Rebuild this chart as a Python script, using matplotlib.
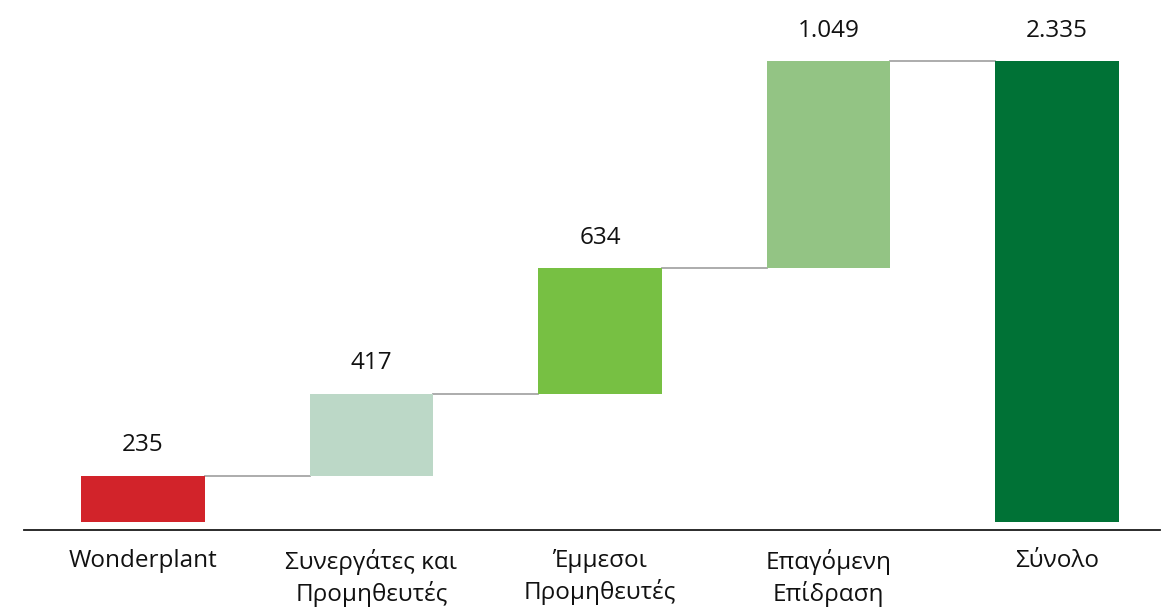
import matplotlib
matplotlib.use("Agg")
import matplotlib.pyplot as plt

plt.rcParams['font.family'] = ['Open Sans', 'DejaVu Sans']

# data
categories = ["Wonderplant", "Συνεργάτες και\nΠρομηθευτές", "Έμμεσοι\nΠρομηθευτές",
              "Επαγόμενη\nΕπίδραση", "Σύνολο"]
steps = [235, 417, 634, 1049]
total = 2335
colors = ["#D2232A", "#BCD8C7", "#77C043", "#93C484", "#007236"]

values = steps + [total]
bottoms = []
run = 0
for v in steps:
    bottoms.append(run)
    run += v
bottoms.append(0)

def fmt(v):
    return f"{v:,}".replace(",", ".")

fig = plt.figure(figsize=(11.73, 6.08), dpi=100)
ax = fig.add_axes([24 / 1173, 78 / 608, 1136 / 1173, 530 / 608])

x = list(range(len(values)))
w = 0.54
ax.bar(x, values, bottom=bottoms, width=w, color=colors, zorder=2)

# connectors
for i in range(len(values) - 1):
    top = bottoms[i] + values[i]
    ax.plot([i + w / 2, i + 1 - w / 2], [top, top], color="#A6A6A6", lw=1.3, zorder=1)

for i, v in enumerate(values):
    ax.annotate(fmt(v), (i, bottoms[i] + v), xytext=(0, 22), textcoords="offset points",
                ha="center", va="center", fontsize=17.5, color="#111111")

ax.set_xlim(-0.52, 4.45)
ax.set_ylim(-38, 2644)
for s in ["top", "right", "left"]:
    ax.spines[s].set_visible(False)
ax.spines["bottom"].set_color("#1a1a1a")
ax.spines["bottom"].set_linewidth(1.3)
ax.set_yticks([])
ax.set_xticks(x)
ax.set_xticklabels(categories, fontsize=17.5, color="#111111", linespacing=1.3)
ax.tick_params(axis="x", length=0, pad=14)

fig.savefig("out.png", dpi=100)
